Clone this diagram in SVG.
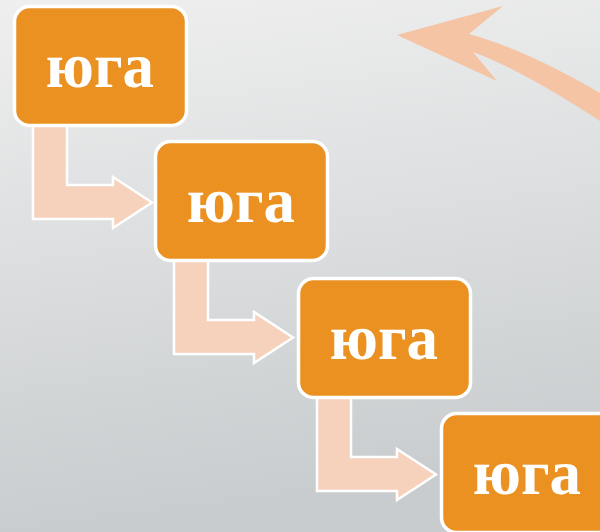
<svg xmlns="http://www.w3.org/2000/svg" width="600" height="532" viewBox="0 0 600 532">
<defs>
<linearGradient id="bg" x1="0" y1="0" x2="0.15" y2="1">
<stop offset="0" stop-color="#EFEFEF"/>
<stop offset="1" stop-color="#C8CCCE"/>
</linearGradient>
<path id="bent" d="M20,118 L54,118 L54,180 L100,180 L100,172 L139,197.5 L100,223 L100,214 L20,214 Z"/>
</defs>
<style>
.box{fill:#EA9122;stroke:#FFFFFF;stroke-width:3.5}
.lbl{font-family:"Liberation Serif","Times New Roman",serif;font-weight:bold;font-size:63px;fill:#FFFFFF;text-anchor:middle}
.conn{fill:#F6D1BC;stroke:#FFFFFF;stroke-width:2.5;stroke-linejoin:miter}
</style>
<rect width="600" height="532" fill="url(#bg)"/>
<g id="connectors">
<use href="#bent" class="conn" transform="translate(13,5)"/>
<use href="#bent" class="conn" transform="translate(154,140)"/>
<use href="#bent" class="conn" transform="translate(297,277)"/>
<path d="M397,35 L503,6 L469,34 Q527,50 600,93 L600,121 Q522,70 473,52 L497,81 Z" fill="#F4C4A4"/>
</g>
<g id="node1">
<rect class="box" x="14.5" y="6.5" width="172" height="119" rx="15"/>
<text class="lbl" x="100" y="87">юга</text>
</g>
<g id="node2">
<rect class="box" x="155.5" y="141.5" width="172" height="119" rx="15"/>
<text class="lbl" x="241" y="222">юга</text>
</g>
<g id="node3">
<rect class="box" x="298.5" y="278.5" width="172" height="119" rx="15"/>
<text class="lbl" x="384" y="359">юга</text>
</g>
<g id="node4">
<rect class="box" x="441.5" y="413.5" width="172" height="119" rx="15"/>
<text class="lbl" x="527" y="494">юга</text>
</g>
</svg>
